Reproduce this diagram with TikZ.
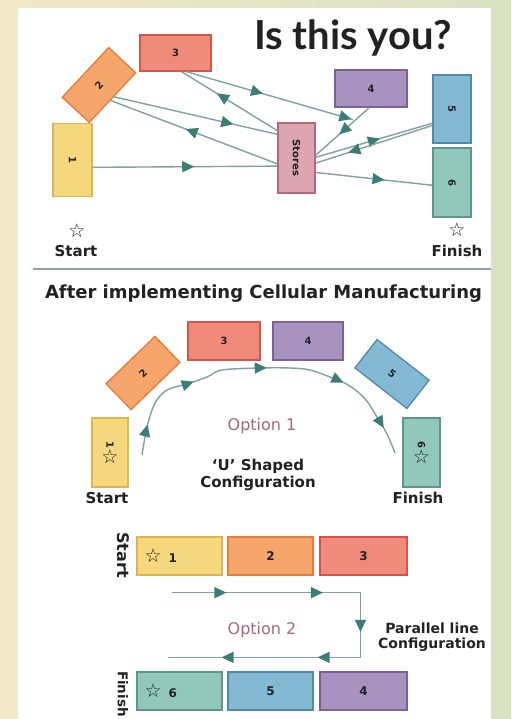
\documentclass[tikz,border=0pt]{standalone}
\usepackage{fontspec}
\setmainfont{DejaVu Sans}
\newfontfamily\titlefont{Lato}
\usetikzlibrary{arrows.meta,decorations.markings}

\definecolor{framecream}{HTML}{F2E7C9}
\definecolor{framegreen}{HTML}{D9E1C2}
\definecolor{inkdark}{HTML}{222222}
\definecolor{optmauve}{HTML}{A8677F}
\definecolor{flowline}{HTML}{7FA1A1}
\definecolor{flowhead}{HTML}{3E7D76}
\definecolor{sepgray}{HTML}{8CA4A8}
\definecolor{yelfill}{HTML}{F5D77E}\definecolor{yeldraw}{HTML}{DDB650}
\definecolor{orafill}{HTML}{F6A56B}\definecolor{oradraw}{HTML}{E47B3F}
\definecolor{salfill}{HTML}{F08A7A}\definecolor{saldraw}{HTML}{D9534A}
\definecolor{purfill}{HTML}{A892BF}\definecolor{purdraw}{HTML}{7C6198}
\definecolor{blufill}{HTML}{84B9D4}\definecolor{bludraw}{HTML}{4F8BA9}
\definecolor{teafill}{HTML}{92C7BD}\definecolor{teadraw}{HTML}{5C978D}
\definecolor{stofill}{HTML}{DDA5AF}\definecolor{stodraw}{HTML}{B06B79}

\newcommand{\flowtip}{\arrow{Triangle[length=12pt,width=11pt,color=flowhead]}}
\newcommand{\wstar}{{\mdseries\fontsize{19}{19}\selectfont ☆}}

\tikzset{
    >=Triangle,
    cellbox/.style={draw,line width=1.3pt,inner sep=0pt,align=center,text=inkdark,font=\bfseries\fontsize{10}{12}\selectfont},
    cyellow/.style={cellbox,fill=yelfill,draw=yeldraw},
    corange/.style={cellbox,fill=orafill,draw=oradraw},
    csalmon/.style={cellbox,fill=salfill,draw=saldraw},
    cpurple/.style={cellbox,fill=purfill,draw=purdraw},
    cblue/.style={cellbox,fill=blufill,draw=bludraw},
    cteal/.style={cellbox,fill=teafill,draw=teadraw},
    cstores/.style={cellbox,fill=stofill,draw=stodraw},
    caption/.style={inner sep=0pt,text=inkdark,font=\bfseries\fontsize{15}{17}\selectfont},
    opttext/.style={inner sep=0pt,text=optmauve,font=\fontsize{16}{18}\selectfont},
    flowpath/.style={draw=flowline,line width=1.4pt},
    flow/.style={flowpath,postaction={decorate},decoration={markings,mark=at position #1 with {\flowtip}}},
    flow/.default=0.5,
}

\begin{document}
\begin{tikzpicture}[x=1pt,y=-1pt]
    \useasboundingbox (0,0) rectangle (511,719);
    \clip (0,0) rectangle (511,719);
    \fill[left color=framecream,right color=framegreen] (0,0) rectangle (511,719);
    \fill[white] (18,8) rectangle (491,719);

    % before
    \node[anchor=base,inner sep=0pt,text=inkdark,font=\titlefont\bfseries\fontsize{40}{40}\selectfont] (title) at (353,50) {Is this you?};

    \node[cyellow,minimum width=39pt,minimum height=73pt] (t1) at (72.5,160) {\rotatebox{-90}{1}};
    \node[corange,minimum width=68pt,minimum height=37pt,rotate=47] (t2) at (99,85) {2};
    \node[csalmon,minimum width=71pt,minimum height=36pt] (t3) at (175.5,53) {3};
    \node[cpurple,minimum width=72pt,minimum height=37pt] (t4) at (371,88.5) {4};
    \node[cblue,minimum width=38pt,minimum height=68pt] (t5) at (452,109) {\rotatebox{-90}{5}};
    \node[cteal,minimum width=38pt,minimum height=69pt] (t6) at (452,182.5) {\rotatebox{-90}{6}};
    \node[cstores,minimum width=37pt,minimum height=70pt] (st) at (296.5,158) {\rotatebox{-90}{Stores}};
    \coordinate (j4) at ([shift={(-18pt,-12pt)}]t4.south);

    \draw[flow=0.55] (t1.-20) -- (st.203);
    \draw[flow=0.55] (st.197) -- (t2.-100);
    \draw[flow=0.73] (t2.-85) -- (st.129);
    \draw[flow=0.63] (st.125) -- (t3.-72);
    \draw[flowpath,postaction={decorate},decoration={markings,mark=at position 0.46 with {\flowtip},mark=at position 0.99 with {\flowtip}}] (t3.-60) -- (j4);
    \draw[flow=0.56] (t4.-95) -- (st.8);
    \draw[flow=0.55] (st.2) -- (t5.216);
    \draw[flow=0.72] (t5.220) -- (st.-15);
    \draw[flow=0.59] (st.-37) -- (t6.188);

    \node[inner sep=0pt,text=inkdark] (tstar) at (77,231) {\wstar};
    \node[caption,anchor=base] (tstart) at (76,256) {Start};
    \node[inner sep=0pt,text=inkdark] (fstar) at (457,230) {\wstar};
    \node[caption,anchor=base] (tfinish) at (457,256) {Finish};

    \draw[sepgray,line width=1.4pt] (33,269) -- (491,269);

    % after
    \node[caption,anchor=base,font=\bfseries\fontsize{18}{20}\selectfont] (head) at (263.5,298) {After implementing Cellular Manufacturing};

    \node[cyellow,minimum width=36pt,minimum height=69pt] (u1) at (110,452.5) {\rotatebox{-90}{1}\\[1pt]\wstar};
    \node[corange,minimum width=68pt,minimum height=36pt,rotate=44] (u2) at (143,373) {2};
    \node[csalmon,minimum width=72pt,minimum height=38pt] (u3) at (224,341) {3};
    \node[cpurple,minimum width=70pt,minimum height=38pt] (u4) at (308,341) {4};
    \node[cblue,minimum width=66pt,minimum height=36pt,rotate=-38] (u5) at (392,374) {5};
    \node[cteal,minimum width=37pt,minimum height=69pt] (u6) at (421.5,452.5) {\rotatebox{-90}{6}\\[1pt]\wstar};

    \coordinate (ua) at (142,455);
    \coordinate (ub) at (395,453);
    \draw[flowpath,postaction={decorate},decoration={markings,
        mark=at position 0.09 with {\flowtip},mark=at position 0.29 with {\flowtip},
        mark=at position 0.51 with {\flowtip},mark=at position 0.74 with {\flowtip},
        mark=at position 0.92 with {\flowtip}}]
        plot[smooth,tension=0.55] coordinates {(ua) (147,427) (155,403) (167,390) (187,384) (207,377) (222,370) (260,368) (290,368) (310,370) (330,377) (350,386) (366,400) (377,417) (387,434) (ub)};

    \node[opttext,anchor=base] (opt1) at (262,430) {Option 1};
    \node[caption,anchor=base] (ushape) at (258,470) {`U' Shaped};
    \node[caption,anchor=base] (ucfg) at (258,487) {Configuration};
    \node[caption,anchor=base] (ustart) at (107,503) {Start};
    \node[caption,anchor=base] (ufinish) at (418,503) {Finish};

    \node[cyellow,minimum width=85pt,minimum height=38pt,font=\bfseries\fontsize{12}{14}\selectfont] (p1) at (179.5,556) {\makebox[70pt][l]{\wstar\hspace{7pt}1}};
    \node[corange,minimum width=85pt,minimum height=38pt,font=\bfseries\fontsize{12}{14}\selectfont] (p2) at (270.5,556) {2};
    \node[csalmon,minimum width=87pt,minimum height=38pt,font=\bfseries\fontsize{12}{14}\selectfont] (p3) at (363.5,556) {3};
    \node[cteal,minimum width=85pt,minimum height=38pt,font=\bfseries\fontsize{12}{14}\selectfont] (p6) at (179.5,691) {\makebox[70pt][l]{\wstar\hspace{7pt}6}};
    \node[cblue,minimum width=85pt,minimum height=38pt,font=\bfseries\fontsize{12}{14}\selectfont] (p5) at (270.5,691) {5};
    \node[cpurple,minimum width=87pt,minimum height=38pt,font=\bfseries\fontsize{12}{14}\selectfont] (p4) at (363.5,691) {4};

    \node[caption,rotate=-90,font=\bfseries\fontsize{16}{18}\selectfont] (pstart) at (123,555) {Start};
    \node[caption,rotate=-90,font=\bfseries\fontsize{13.5}{15}\selectfont] (pfinish) at (123,694) {Finish};

    \coordinate (in2) at ([shift={(-8pt,-17pt)}]p1.south);
    \coordinate (c1) at ([shift={(-3pt,-17pt)}]p3.south);
    \coordinate (c2) at ([shift={(-3pt,14pt)}]p4.north);
    \coordinate (out2) at ([shift={(-12pt,14pt)}]p6.north);
    \draw[flowpath,postaction={decorate},decoration={markings,
        mark=at position 0.123 with {\flowtip},mark=at position 0.339 with {\flowtip},
        mark=at position 0.511 with {\flowtip},mark=at position 0.664 with {\flowtip},
        mark=at position 0.879 with {\flowtip}}]
        (in2) -- (c1) -- (c2) -- (out2);

    \node[opttext,anchor=base] (opt2) at (262,634) {Option 2};
    \node[caption,anchor=base,font=\bfseries\fontsize{14}{15}\selectfont] (ppar) at (432,633) {Parallel line};
    \node[caption,anchor=base,font=\bfseries\fontsize{14}{15}\selectfont] (pcfg) at (432,648) {Configuration};
\end{tikzpicture}
\end{document}
